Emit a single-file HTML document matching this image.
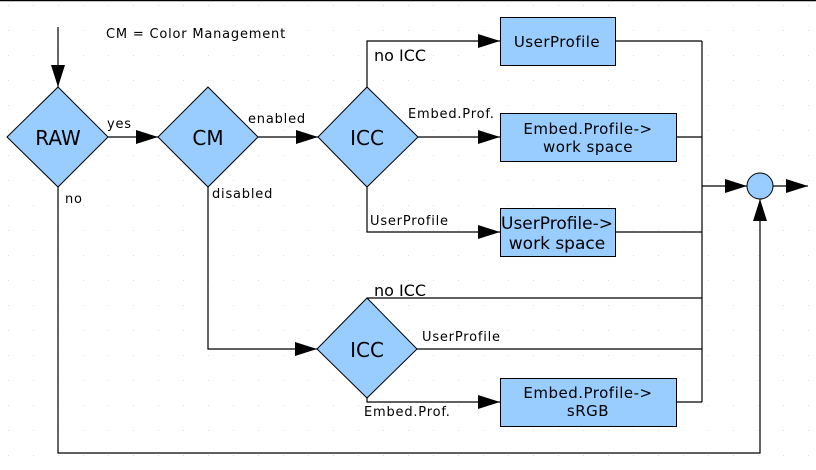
<!DOCTYPE html>
<html><head><meta charset="utf-8"><style>
html,body{margin:0;padding:0;background:#fff;}
svg{display:block;font-family:"DejaVu Sans","Liberation Sans",sans-serif;}
</style></head><body>
<svg width="816" height="470" viewBox="0 0 816 470" xmlns="http://www.w3.org/2000/svg">
<defs>
<pattern id="g" width="25" height="25" patternUnits="userSpaceOnUse" x="8" y="5"><rect x="0" y="0" width="1" height="1" fill="#ddd"/></pattern>
<marker id="a" markerWidth="24" markerHeight="16" refX="22" refY="7" orient="auto" markerUnits="userSpaceOnUse"><path d="M0,0 L22,7 L0,14 Z" fill="#000"/></marker>
</defs>
<rect width="816" height="470" fill="url(#g)"/>
<line x1="0" y1="0.5" x2="816" y2="0.5" stroke="#000" stroke-width="1.5"/>
<g stroke="#000" stroke-width="1.2" fill="none">
<line x1="58" y1="27" x2="58" y2="87" marker-end="url(#a)"/>
<line x1="108" y1="137" x2="158" y2="137" marker-end="url(#a)"/>
<line x1="258" y1="137" x2="318" y2="137" marker-end="url(#a)"/>
<polyline points="367,87 367,41 500,41" marker-end="url(#a)"/>
<line x1="418" y1="137" x2="500" y2="137" marker-end="url(#a)"/>
<polyline points="367,187 367,232 500,232" marker-end="url(#a)"/>
<polyline points="208,187 208,349 317,349" marker-end="url(#a)"/>
<line x1="367" y1="298" x2="702" y2="298"/>
<line x1="417" y1="349" x2="702" y2="349"/>
<polyline points="367,398 367,402 500,402" marker-end="url(#a)"/>
<line x1="615" y1="41" x2="702" y2="41"/>
<line x1="676" y1="137" x2="702" y2="137"/>
<line x1="615" y1="232" x2="702" y2="232"/>
<line x1="676" y1="402" x2="702" y2="402"/>
<line x1="702" y1="41" x2="702" y2="402"/>
<line x1="702" y1="186" x2="747" y2="186" marker-end="url(#a)"/>
<line x1="773" y1="186" x2="808" y2="186" marker-end="url(#a)"/>
<polyline points="58,187 58,453 760,453 760,199" marker-end="url(#a)"/>
</g>
<g fill="#99ccff" stroke="#000" stroke-width="1">
<polygon points="58,87 108,137 58,187 7,137"/>
<polygon points="208,87 258,137 208,187 158,137"/>
<polygon points="367,87 418,137 367,187 318,137"/>
<polygon points="367,298 417,349 367,398 317,349"/>
<rect x="500.5" y="17.5" width="115" height="48"/>
<rect x="500.5" y="113.5" width="176" height="48"/>
<rect x="500.5" y="208.5" width="115" height="48"/>
<rect x="500.5" y="378.5" width="176" height="48"/>
<circle cx="760" cy="186" r="13"/>
</g>
<g fill="#000" font-size="13" letter-spacing="0.8">
<text x="106" y="38">CM = Color Management</text>
<text x="107" y="128">yes</text>
<text x="65" y="203">no</text>
<text x="248" y="123">enabled</text>
<text x="212" y="198">disabled</text>
<text x="408" y="118">Embed.Prof.</text>
<text x="370" y="225">UserProfile</text>
<text x="422" y="341">UserProfile</text>
<text x="364" y="416">Embed.Prof.</text>
</g>
<g fill="#000" font-size="16">
<text x="374" y="61">no ICC</text>
<text x="374" y="296">no ICC</text>
</g>
<g fill="#000" font-size="20" text-anchor="middle">
<text x="58" y="145">RAW</text>
<text x="208" y="145">CM</text>
<text x="367" y="145">ICC</text>
<text x="367" y="357">ICC</text>
</g>
<g fill="#000" font-size="15" text-anchor="middle" letter-spacing="0.5">
<text x="557" y="47">UserProfile</text>
<text x="588" y="134">Embed.Profile-&gt;</text>
<text x="588" y="152">work space</text>
<text x="588" y="398">Embed.Profile-&gt;</text>
<text x="588" y="416">sRGB</text>
</g>
<g fill="#000" font-size="17" text-anchor="middle">
<text x="557" y="229">UserProfile-&gt;</text>
<text x="557" y="249">work space</text>
</g>
</svg>
</body></html>
